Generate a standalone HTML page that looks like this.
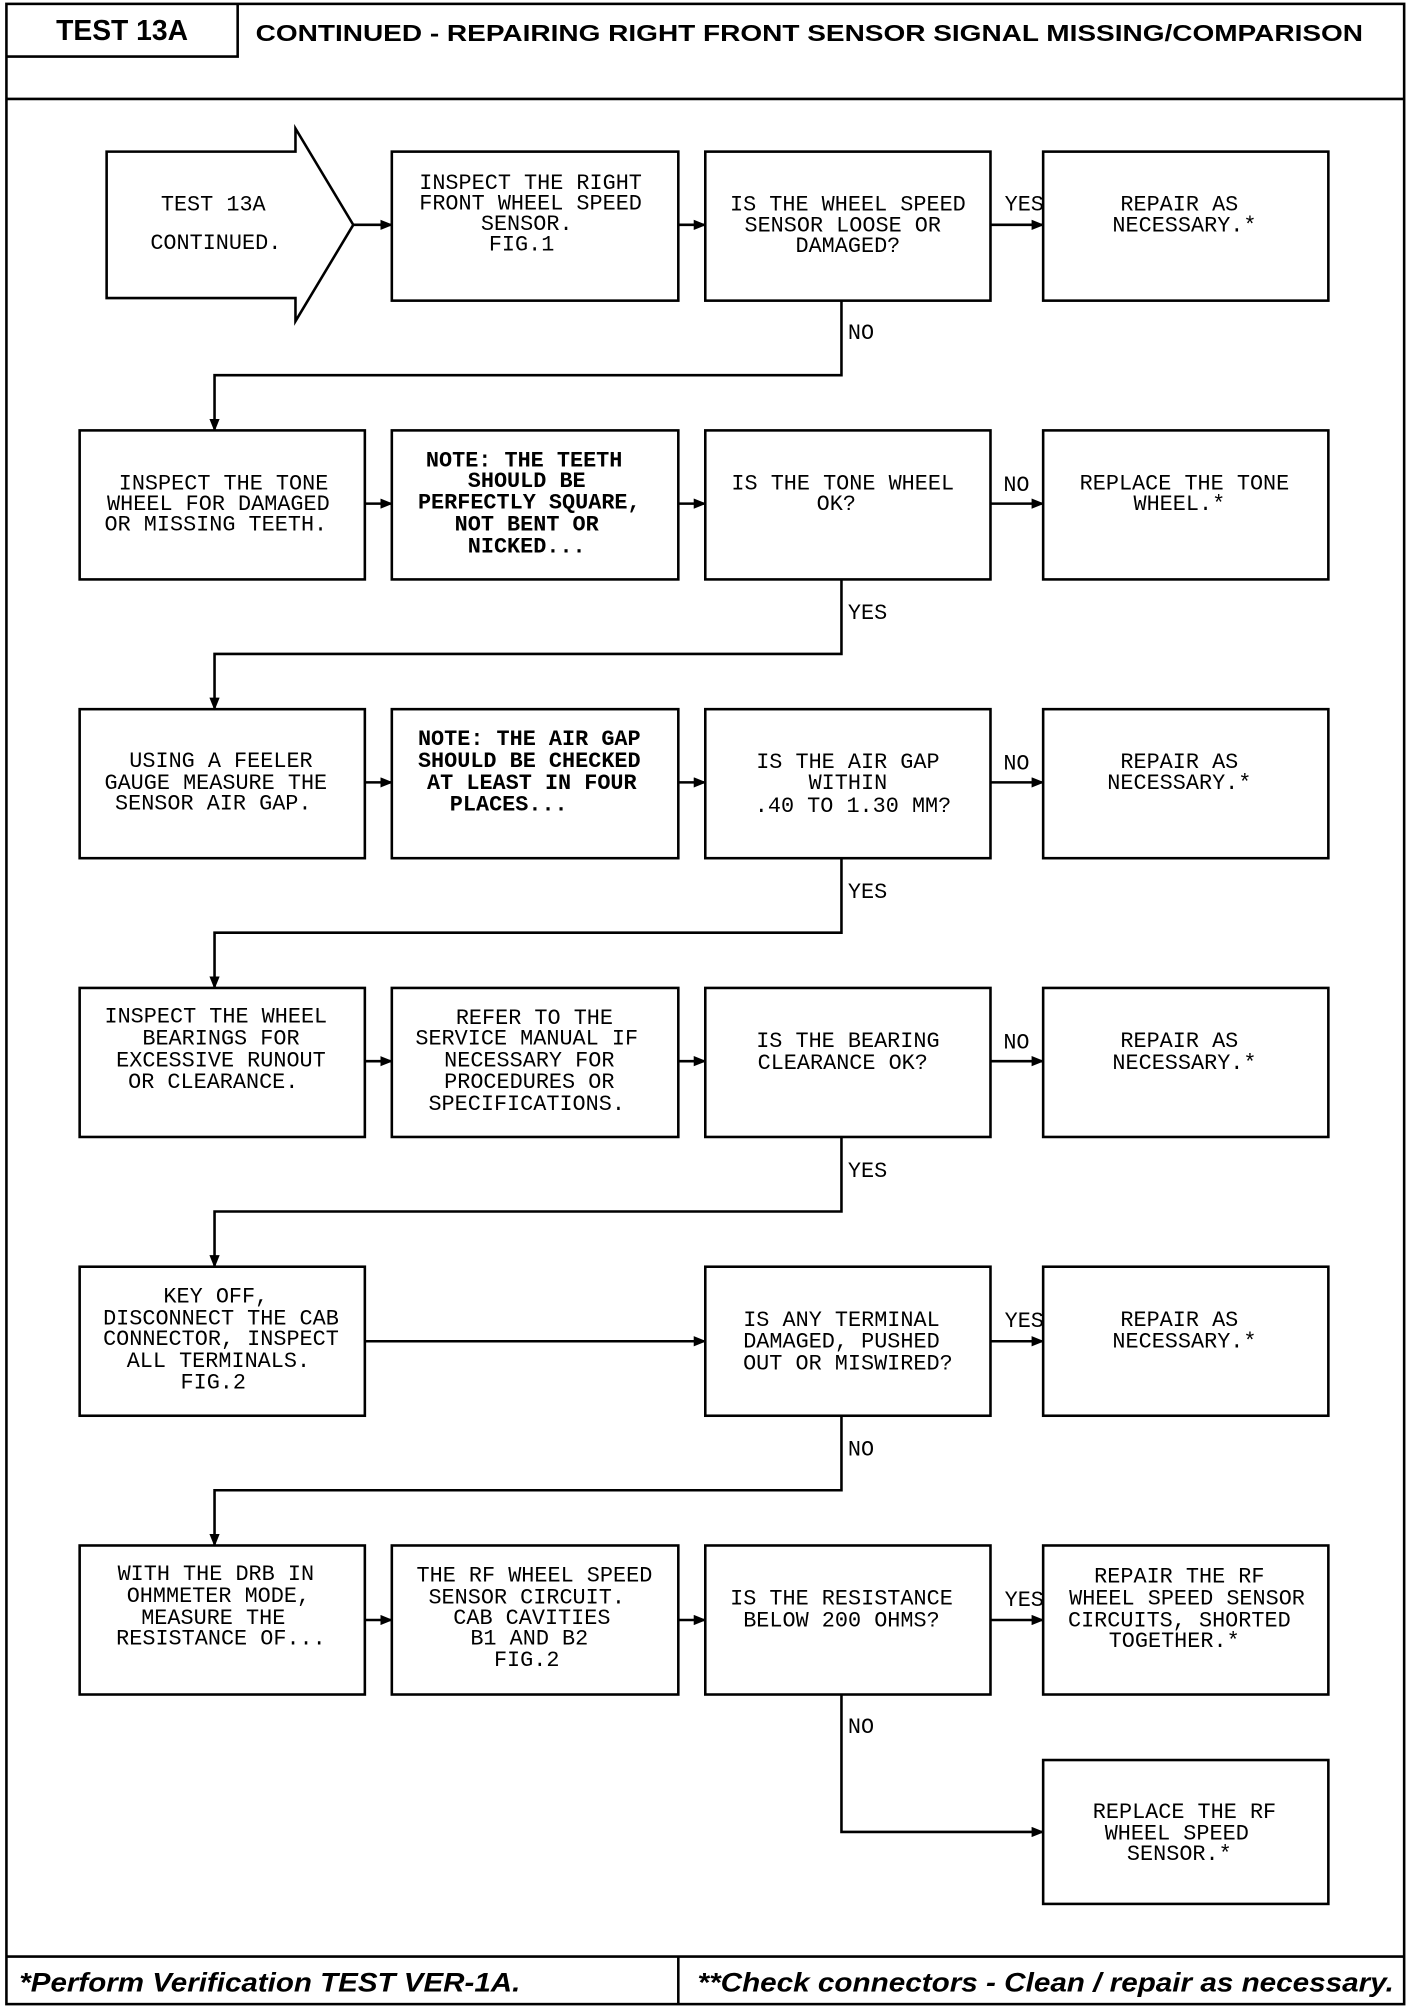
<!DOCTYPE html>
<html><head><meta charset="utf-8"><style>
html,body{margin:0;padding:0;background:#fff;}
svg{display:block;}
.t{font-family:"Liberation Mono",monospace;font-size:17px;fill:#000;text-anchor:middle;}
.b{font-weight:bold;}
.h{font-family:"Liberation Sans",sans-serif;font-weight:bold;fill:#000;}
</style></head><body>
<svg width="1408" height="2008" viewBox="0 0 1096 1563" xmlns="http://www.w3.org/2000/svg">
<defs><marker id="a" markerWidth="10" markerHeight="8" refX="9" refY="4" orient="auto" markerUnits="userSpaceOnUse"><path d="M0,0 L10,4 L0,8 z" fill="#000"/></marker></defs>
<g fill="none" stroke="#000" stroke-width="2">
<rect x="5" y="3" width="1088" height="1557"/>
<line x1="5" y1="77" x2="1093" y2="77"/>
<polyline points="5,44 185,44 185,3"/>
<line x1="5" y1="1523" x2="1093" y2="1523"/>
<line x1="528" y1="1523" x2="528" y2="1560"/>
<path d="M83,118 H230 V100 L275,175 L230,250 V232 H83 Z"/>
<rect x="305" y="118" width="223" height="116"/><rect x="549" y="118" width="222" height="116"/><rect x="812" y="118" width="222" height="116"/>
<rect x="62" y="335" width="222" height="116"/><rect x="305" y="335" width="223" height="116"/><rect x="549" y="335" width="222" height="116"/><rect x="812" y="335" width="222" height="116"/>
<rect x="62" y="552" width="222" height="116"/><rect x="305" y="552" width="223" height="116"/><rect x="549" y="552" width="222" height="116"/><rect x="812" y="552" width="222" height="116"/>
<rect x="62" y="769" width="222" height="116"/><rect x="305" y="769" width="223" height="116"/><rect x="549" y="769" width="222" height="116"/><rect x="812" y="769" width="222" height="116"/>
<rect x="62" y="986" width="222" height="116"/><rect x="549" y="986" width="222" height="116"/><rect x="812" y="986" width="222" height="116"/>
<rect x="62" y="1203" width="222" height="116"/><rect x="305" y="1203" width="223" height="116"/><rect x="549" y="1203" width="222" height="116"/><rect x="812" y="1203" width="222" height="116"/>
<rect x="812" y="1370" width="222" height="112"/>
</g>
<g fill="none" stroke="#000" stroke-width="2" marker-end="url(#a)">
<line x1="275" y1="175" x2="305" y2="175"/><line x1="528" y1="175" x2="549" y2="175"/><line x1="771" y1="175" x2="812" y2="175"/>
<line x1="284" y1="392" x2="305" y2="392"/><line x1="528" y1="392" x2="549" y2="392"/><line x1="771" y1="392" x2="812" y2="392"/>
<line x1="284" y1="609" x2="305" y2="609"/><line x1="528" y1="609" x2="549" y2="609"/><line x1="771" y1="609" x2="812" y2="609"/>
<line x1="284" y1="826" x2="305" y2="826"/><line x1="528" y1="826" x2="549" y2="826"/><line x1="771" y1="826" x2="812" y2="826"/>
<line x1="284" y1="1044" x2="549" y2="1044"/><line x1="771" y1="1044" x2="812" y2="1044"/>
<line x1="284" y1="1261" x2="305" y2="1261"/><line x1="528" y1="1261" x2="549" y2="1261"/><line x1="771" y1="1261" x2="812" y2="1261"/>
<polyline points="655,234 655,292 167,292 167,335"/>
<polyline points="655,451 655,509 167,509 167,552"/>
<polyline points="655,668 655,726 167,726 167,769"/>
<polyline points="655,885 655,943 167,943 167,986"/>
<polyline points="655,1102 655,1160 167,1160 167,1203"/>
<polyline points="655,1319 655,1426 812,1426"/>
</g>
<text class="h" x="95" y="31" font-size="22" text-anchor="middle">TEST 13A</text>
<text class="h" x="630" y="32" font-size="18" text-anchor="middle" textLength="862" lengthAdjust="spacingAndGlyphs">CONTINUED - REPAIRING RIGHT FRONT SENSOR SIGNAL MISSING/COMPARISON</text>
<text class="h" x="15" y="1550" font-size="21" font-style="italic" textLength="390" lengthAdjust="spacingAndGlyphs">*Perform Verification TEST VER-1A.</text>
<text class="h" x="543" y="1550" font-size="21" font-style="italic" textLength="542" lengthAdjust="spacingAndGlyphs">**Check connectors - Clean / repair as necessary.</text>
<g class="t">
<text x="166" y="164">TEST 13A</text><text x="168" y="194">CONTINUED.</text>
<text x="413" y="147">INSPECT THE RIGHT</text><text x="413" y="163">FRONT WHEEL SPEED</text><text x="410" y="179">SENSOR.</text><text x="406" y="195">FIG.1</text>
<text x="660" y="164">IS THE WHEEL SPEED</text><text x="656" y="180">SENSOR LOOSE OR</text><text x="660" y="196">DAMAGED?</text>
<text x="918" y="164">REPAIR AS</text><text x="922" y="180">NECESSARY.*</text>
<text x="174" y="381">INSPECT THE TONE</text><text x="170" y="397">WHEEL FOR DAMAGED</text><text x="168" y="413">OR MISSING TEETH.</text>
<g class="b"><text x="408" y="363">NOTE: THE TEETH</text><text x="410" y="379">SHOULD BE</text><text x="412" y="396">PERFECTLY SQUARE,</text><text x="410" y="413">NOT BENT OR</text><text x="410" y="430">NICKED...</text></g>
<text x="656" y="381">IS THE TONE WHEEL</text><text x="651" y="397">OK?</text>
<text x="922" y="381">REPLACE THE TONE</text><text x="918" y="397">WHEEL.*</text>
<text x="172" y="597">USING A FEELER</text><text x="168" y="614">GAUGE MEASURE THE</text><text x="166" y="630">SENSOR AIR GAP.</text>
<g class="b"><text x="412" y="580">NOTE: THE AIR GAP</text><text x="412" y="597">SHOULD BE CHECKED</text><text x="414" y="614">AT LEAST IN FOUR</text><text x="396" y="631">PLACES...</text></g>
<text x="660" y="598">IS THE AIR GAP</text><text x="660" y="614">WITHIN</text><text x="664" y="632">.40 TO 1.30 MM?</text>
<text x="918" y="598">REPAIR AS</text><text x="918" y="614">NECESSARY.*</text>
<text x="168" y="796">INSPECT THE WHEEL</text><text x="172" y="813">BEARINGS FOR</text><text x="172" y="830">EXCESSIVE RUNOUT</text><text x="166" y="847">OR CLEARANCE.</text>
<text x="416" y="797">REFER TO THE</text><text x="410" y="813">SERVICE MANUAL IF</text><text x="412" y="830">NECESSARY FOR</text><text x="412" y="847">PROCEDURES OR</text><text x="410" y="864">SPECIFICATIONS.</text>
<text x="660" y="815">IS THE BEARING</text><text x="656" y="832">CLEARANCE OK?</text>
<text x="918" y="815">REPAIR AS</text><text x="922" y="832">NECESSARY.*</text>
<text x="168" y="1014">KEY OFF,</text><text x="172" y="1031">DISCONNECT THE CAB</text><text x="172" y="1047">CONNECTOR, INSPECT</text><text x="170" y="1064">ALL TERMINALS.</text><text x="166" y="1081">FIG.2</text>
<text x="655" y="1032">IS ANY TERMINAL</text><text x="655" y="1049">DAMAGED, PUSHED</text><text x="660" y="1066">OUT OR MISWIRED?</text>
<text x="918" y="1032">REPAIR AS</text><text x="922" y="1049">NECESSARY.*</text>
<text x="168" y="1230">WITH THE DRB IN</text><text x="170" y="1247">OHMMETER MODE,</text><text x="166" y="1264">MEASURE THE</text><text x="172" y="1280">RESISTANCE OF...</text>
<text x="416" y="1231">THE RF WHEEL SPEED</text><text x="410" y="1248">SENSOR CIRCUIT.</text><text x="414" y="1264">CAB CAVITIES</text><text x="412" y="1280">B1 AND B2</text><text x="410" y="1297">FIG.2</text>
<text x="655" y="1249">IS THE RESISTANCE</text><text x="655" y="1266">BELOW 200 OHMS?</text>
<text x="918" y="1232">REPAIR THE RF</text><text x="924" y="1249">WHEEL SPEED SENSOR</text><text x="918" y="1266">CIRCUITS, SHORTED</text><text x="914" y="1282">TOGETHER.*</text>
<text x="922" y="1415">REPLACE THE RF</text><text x="916" y="1432">WHEEL SPEED</text><text x="918" y="1448">SENSOR.*</text>
<g text-anchor="start">
<text x="782" y="164" style="text-anchor:start">YES</text><text x="660" y="264" style="text-anchor:start">NO</text>
<text x="781" y="382" style="text-anchor:start">NO</text><text x="660" y="482" style="text-anchor:start">YES</text>
<text x="781" y="599" style="text-anchor:start">NO</text><text x="660" y="699" style="text-anchor:start">YES</text>
<text x="781" y="816" style="text-anchor:start">NO</text><text x="660" y="916" style="text-anchor:start">YES</text>
<text x="782" y="1033" style="text-anchor:start">YES</text><text x="660" y="1133" style="text-anchor:start">NO</text>
<text x="782" y="1250" style="text-anchor:start">YES</text><text x="660" y="1349" style="text-anchor:start">NO</text>
</g>
</g>
</svg>
</body></html>
